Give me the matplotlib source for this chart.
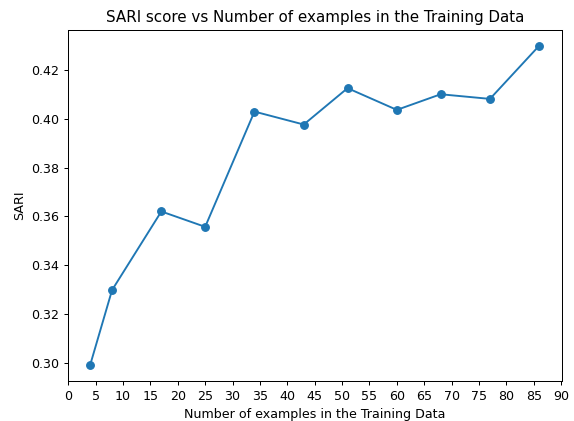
import matplotlib
matplotlib.use("Agg")
import matplotlib.pyplot as plt
import numpy as np

num_examples = [4, 8, 17, 25, 34, 43, 51, 60, 68, 77, 86]
sari_scores = [0.2991, 0.3298, 0.3620, 0.3557, 0.4029, 0.3976, 0.4125, 0.4036, 0.4100, 0.4081, 0.4299]
xtick_values = list(range(0, 95, 5))

W, H = 574, 421
DPI = 91
fig = plt.figure(figsize=(W / DPI, H / DPI), dpi=DPI)
left, right, top, bottom = 67.7, 561.7, 29.7, 381.0
ax = fig.add_axes([left / W, (H - bottom) / H, (right - left) / W, (bottom - top) / H])
ax.plot(num_examples, sari_scores, marker='o')
ax.set_xticks(xtick_values)
ax.set_xlabel("Number of examples in the Training Data")
ax.set_ylabel("SARI")
ax.set_title("SARI score vs Number of examples in the Training Data")
fig.savefig("out.png", dpi=DPI)
